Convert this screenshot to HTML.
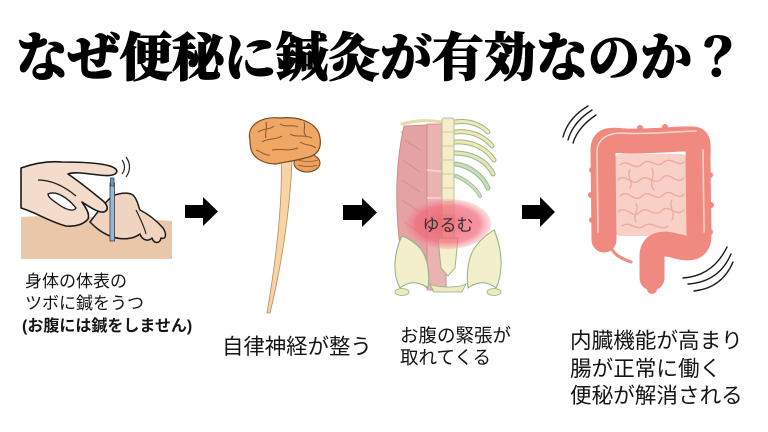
<!DOCTYPE html>
<html><head><meta charset="utf-8"><style>
html,body{margin:0;padding:0;background:#fff;width:768px;height:432px;overflow:hidden}
svg{display:block}
.t{font-family:"Liberation Sans","Noto Sans CJK JP",sans-serif;fill:#151515}
</style></head><body>
<svg width="768" height="432" viewBox="0 0 768 432" xmlns="http://www.w3.org/2000/svg">
<defs>
<radialGradient id="glow" cx="50%" cy="50%" r="50%">
<stop offset="0%" stop-color="#ef5468" stop-opacity="0.8"/>
<stop offset="75%" stop-color="#f06678" stop-opacity="0.68"/>
<stop offset="100%" stop-color="#f590a0" stop-opacity="0.3"/>
</radialGradient>
</defs>
<rect width="768" height="432" fill="#fff"/>

<!-- Title -->
<text y="76" x="16 68 120 172 224 276 328 380 432 484 536 588 640 692" font-family="'Noto Serif CJK JP','Noto Serif CJK SC','IPAMincho','IPAPMincho','Noto Sans CJK JP',serif" font-weight="900" font-size="52" fill="#000" stroke="#000" stroke-width="1">なぜ便秘に鍼灸が有効なのか？</text>

<!-- Image 1: hand + needle -->
<path d="M21,217 C60,214 120,218 172,221 L172,259 L21,259 Z" fill="#eac7a8"/>
<path d="M112,196 C120,193 128,192 133,195 C138,200 138,206 140,210 C148,214 156,220 163,228 C167,234 166,240 161,238 C160,244 154,244 152,238 C148,242 142,240 140,234 C132,240 120,240 110,236 C100,232 94,226 90,222 C96,214 104,204 112,196 Z" fill="#f0d4bf" stroke="#1a1a1a" stroke-width="1.5" stroke-linejoin="round"/>
<path d="M21,168 C35,163 50,161 62,162 C80,162 100,163 110,166 C116,168 119,171 115,174 C110,177 100,175 90,174 C82,173 74,172 68,174 C80,182 92,192 102,200 C108,205 109,210 104,212 C98,213 90,207 82,202 C86,208 90,214 88,219 C84,224 76,227 66,226 C50,222 35,212 21,208 Z" fill="#f3dccb" stroke="#1a1a1a" stroke-width="1.6" stroke-linejoin="round"/>
<path d="M48,194 C56,190 68,198 76,208 C74,212 66,210 58,204 C52,200 48,197 48,194 Z" fill="#fff" stroke="#1a1a1a" stroke-width="1.3"/>
<path d="M38,180 C52,180 64,186 76,196" fill="none" stroke="#1a1a1a" stroke-width="1.3"/>
<path d="M136,210 C140,218 144,226 146,234" fill="none" stroke="#1a1a1a" stroke-width="1.1"/>
<rect x="110" y="183" width="4.5" height="58" fill="#9cb8cc" stroke="#2d3e52" stroke-width="0.8"/>
<rect x="110.5" y="178" width="3.5" height="8" fill="#6f93b3" stroke="#2d3e52" stroke-width="0.7"/>
<path d="M122,160 Q127,167 122,174 M126,157 Q133,167 126,177" fill="none" stroke="#222" stroke-width="1.2"/>

<!-- Arrow 1 -->
<path d="M185,205 L203,205 L203,197 L218,211.5 L203,226 L203,218 L185,218 Z" fill="#000"/>

<!-- Image 2: brain + cord -->
<path d="M281,158 L292,158 C291,200 283,260 270,313 L267,313 C276,260 283,200 281,158 Z" fill="#f6d4a6" stroke="#b88a58" stroke-width="0.8"/>
<ellipse cx="307" cy="163" rx="13" ry="9" fill="#eea060" stroke="#7a4a22" stroke-width="1.1"/>
<path d="M250,140 C246,125 262,116 280,118 C298,116 318,122 320,138 C322,150 316,156 305,158 C295,161 284,162 276,164 C266,164 256,160 252,152 C250,148 250,144 250,140 Z" fill="#f0a664" stroke="#7a4a22" stroke-width="1.2"/>
<path d="M258,132 C264,128 270,130 274,126 M262,142 C268,138 276,140 282,136 M280,124 C286,128 292,124 298,127 M290,134 C296,138 304,134 312,138 M272,150 C280,148 288,152 298,148 M300,142 C306,146 312,144 316,148 M266,122 C268,128 264,134 266,138 M304,122 C306,128 302,132 306,136 M256,150 C262,152 266,156 270,155" fill="none" stroke="#8a5a2a" stroke-width="1"/>
<path d="M298,160 C304,162 312,162 318,160 M298,165 C305,167 312,167 317,165" fill="none" stroke="#8a5a2a" stroke-width="0.8"/>

<!-- Arrow 2 -->
<path d="M343,205 L362,205 L362,198 L377,212.5 L362,227 L362,220 L343,220 Z" fill="#000"/>

<!-- Image 3: torso -->
<g fill="none" stroke-linecap="round">
<path d="M455,122 C468,120 480,124 488,132" stroke="#9cb88e" stroke-width="5"/>
<path d="M455,122 C468,120 480,124 488,132" stroke="#f2e8b4" stroke-width="3"/>
<path d="M455,132 C470,130 484,136 492,146" stroke="#9cb88e" stroke-width="5"/>
<path d="M455,132 C470,130 484,136 492,146" stroke="#f2e8b4" stroke-width="3"/>
<path d="M455,142 C472,141 486,148 494,160" stroke="#9cb88e" stroke-width="5"/>
<path d="M455,142 C472,141 486,148 494,160" stroke="#f2e8b4" stroke-width="3"/>
<path d="M455,153 C472,153 487,161 493,174" stroke="#9cb88e" stroke-width="5"/>
<path d="M455,153 C472,153 487,161 493,174" stroke="#dfe6b8" stroke-width="3"/>
<path d="M456,164 C470,166 483,176 488,188" stroke="#9cb88e" stroke-width="5"/>
<path d="M456,164 C470,166 483,176 488,188" stroke="#c9dcbc" stroke-width="3"/>
<path d="M456,176 C466,180 476,188 480,196" stroke="#9cb88e" stroke-width="4"/>
<path d="M456,176 C466,180 476,188 480,196" stroke="#c9dcbc" stroke-width="2.5"/>
<path d="M402,124 C415,120 430,120 442,122 M402,132 C415,128 430,128 442,130" stroke="#e6dca8" stroke-width="3"/>
</g>
<path d="M404,126 C396,160 395,200 399,238 C404,262 414,280 430,290 L446,292 L446,124 Z" fill="#e5a2a2" stroke="#c88080" stroke-width="0.8"/>
<rect x="427" y="124" width="19" height="166" fill="#ebb2b2" stroke="#c88080" stroke-width="0.7"/>
<path d="M427,170 L446,172 M427,198 L446,198" stroke="#f5d8d8" stroke-width="1.5"/>
<path d="M405,140 L420,150 M403,160 L420,172 M402,180 L420,192 M402,200 L420,212 M404,222 L422,234" stroke="#cf8c8c" stroke-width="0.8" fill="none"/>
<rect x="442" y="118" width="12" height="120" rx="2" fill="#f5ecc8" stroke="#a8b890" stroke-width="0.8"/>
<path d="M442,132 L454,132 M442,146 L454,146 M442,160 L454,160 M442,174 L454,174 M442,188 L454,188 M442,202 L454,202 M442,216 L454,216 M442,230 L454,230" stroke="#b8c49c" stroke-width="0.8"/>
<!-- pelvis -->
<path d="M402,236 C394,252 392,274 400,288 C410,280 420,282 428,288 C430,274 428,258 420,248 C414,242 408,238 402,236 Z" fill="#f3efcc" stroke="#8eb284" stroke-width="1"/>
<path d="M494,230 C502,248 504,272 496,288 C486,280 476,282 468,288 C466,274 468,256 476,246 C482,238 488,234 494,230 Z" fill="#f3efcc" stroke="#8eb284" stroke-width="1"/>
<path d="M438,238 L458,238 L455,268 L448,276 L441,268 Z" fill="#f4efcc" stroke="#8eb284" stroke-width="0.9"/>
<path d="M430,284 C438,288 458,288 466,284 L462,292 L434,292 Z" fill="#eeeac0" stroke="#8eb284" stroke-width="0.8"/>
<ellipse cx="402" cy="292" rx="7" ry="3.5" fill="#eeeac0" stroke="#8eb284" stroke-width="0.8"/>
<ellipse cx="494" cy="292" rx="7" ry="3.5" fill="#eeeac0" stroke="#8eb284" stroke-width="0.8"/>
<ellipse cx="448" cy="224" rx="43" ry="25" fill="url(#glow)"/>
<text x="448" y="231" text-anchor="middle" class="t" font-size="17" style="fill:#333">ゆるむ</text>

<!-- Arrow 3 -->
<path d="M522,205 L540,205 L540,197 L555,212 L540,227 L540,219 L522,219 Z" fill="#000"/>

<!-- Image 4: intestines -->
<g fill="none" stroke="#1a1a1a" stroke-width="1.4" stroke-linecap="round">
<path d="M563,137 Q568,118 588,106"/>
<path d="M568,140 Q573,122 592,110"/>
<path d="M573,143 Q578,127 596,115"/>
<path d="M683,278 Q713,276 727,247"/>
<path d="M688,284 Q719,282 731,254"/>
<path d="M694,291 Q722,288 733,262"/>
</g>
<rect x="613" y="154" width="76" height="82" rx="8" fill="#f8d0c7"/>
<g fill="none" stroke="#eba99f" stroke-width="1.3" stroke-linecap="round">
<path d="M620,165 C628,158 634,172 642,164 C650,156 656,170 664,162 C672,156 678,168 684,162"/>
<path d="M618,180 C626,172 632,188 640,180 C648,172 654,188 662,178 C670,170 676,186 684,178"/>
<path d="M620,196 C628,188 634,204 642,196 C650,188 656,204 664,194 C672,188 678,202 684,194"/>
<path d="M618,212 C626,204 632,220 640,212 C648,204 654,220 662,210 C670,204 676,218 684,210"/>
<path d="M622,226 C630,220 636,232 644,226 C652,220 660,232 668,226"/>
<path d="M630,170 C626,176 634,182 630,188 M652,168 C656,176 648,182 654,190 M672,200 C668,206 676,212 672,220 M636,204 C640,210 632,214 636,222"/>
</g>
<path d="M610,244 C612,254 620,258 631,262" fill="none" stroke="#f08a80" stroke-width="3" stroke-linecap="round"/>
<path d="M604,240 L603,150 C603,138 612,140 625,141 C650,142 680,138 693,139 C700,139 698,148 698,160 L699,236 C699,248 690,250 676,246 C662,242 652,244 652,256 L652,278" fill="none" stroke="#f08a80" stroke-width="25" stroke-linejoin="round" stroke-linecap="round"/>
<path d="M652,272 L652,289" stroke="#f08a80" stroke-width="10" stroke-linecap="round"/>
<g fill="#f08a80">
<circle cx="592" cy="170" r="3"/><circle cx="591" cy="195" r="3"/><circle cx="592" cy="220" r="3"/>
<circle cx="710" cy="175" r="3"/><circle cx="711" cy="205" r="3"/><circle cx="710" cy="232" r="3"/>
<circle cx="640" cy="128" r="3"/><circle cx="665" cy="127" r="3"/>
</g>
<path d="M598,232 L597,152 C597,140 606,133 622,133 C650,135 680,131 696,131 M703,150 L704,232" fill="none" stroke="#fcd8d0" stroke-width="1.5" stroke-linecap="round"/>

<!-- Captions -->
<text class="t" x="25" y="287" font-size="17">身体の体表の</text>
<text class="t" x="25" y="309" font-size="17">ツボに鍼をうつ</text>
<text class="t" x="22" y="331" font-size="16" font-weight="bold">(お腹には鍼をしません)</text>

<text class="t" x="222" y="354" font-size="21.4">自律神経が整う</text>

<text class="t" x="400" y="342" font-size="18.5">お腹の緊張が</text>
<text class="t" x="400" y="364" font-size="18.5">取れてくる</text>

<text class="t" x="570" y="348" font-size="21.6">内臓機能が高まり</text>
<text class="t" x="570" y="376" font-size="21.6">腸が正常に働く</text>
<text class="t" x="570" y="403" font-size="21.6">便秘が解消される</text>
</svg>
</body></html>
